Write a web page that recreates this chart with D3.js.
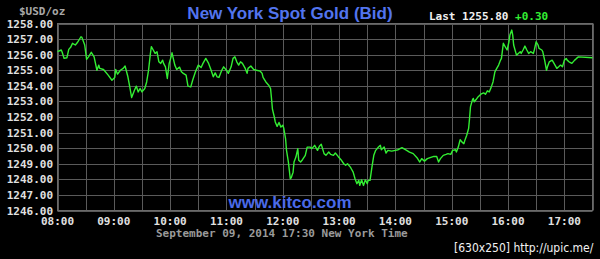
<!DOCTYPE html>
<head>
  <meta charset="utf-8">
  <style>
    body { margin: 0; background: #000; }
    svg { display: block; }
    .mono { font-family: "DejaVu Sans Mono", monospace; font-weight: bold; font-size: 11px; }
  </style>
  <script src="https://cdn.jsdelivr.net/npm/d3@7"></script>
</head>
<body>
<svg id=chart width="600" height="259"></svg>

<script>
// minutes after 08:00 and bid price
const minutes = [0,4,5,7,10,12,14,16,19,21,25,26,29,31,33,36,39,42,44,45,49,54,58,61,62,64,67,70,72,75,77,79,82,84,86,88,90,93,95,97,99,100,102,104,106,108,110,112,113,115,117,119,121,122,125,127,130,132,134,137,139,142,144,147,150,153,155,158,161,163,166,168,170,172,175,177,180,182,185,187,189,191,193,195,197,200,202,203,206,209,212,216,218,219,222,225,227,228,229,231,232,234,236,238,240,241,243,244,246,248,249,251,252,254,256,257,259,261,264,266,269,271,274,277,279,281,284,286,289,291,294,296,299,302,305,307,309,312,313,315,317,319,321,322,324,326,328,330,331,333,335,337,339,342,344,345,348,350,352,356,360,363,367,372,375,379,383,386,388,391,394,397,401,404,406,408,411,414,416,419,421,424,425,427,429,431,433,434,436,438,439,440,442,443,444,446,448,451,454,456,458,460,462,464,466,468,470,472,473,475,477,479,481,482,484,485,486,489,491,493,494,496,498,500,502,504,507,508,510,512,513,516,517,519,521,522,524,527,529,532,534,536,538,540,542,543,545,548,551,553,555,570]
const prices = [1256.19,1256.30,1256.15,1255.76,1255.80,1256.34,1256.47,1256.73,1256.62,1256.76,1257.15,1257.11,1256.62,1255.70,1255.86,1256.15,1255.86,1255.00,1255.33,1255.12,1255.05,1254.69,1254.36,1254.54,1255.05,1254.75,1255.00,1255.12,1255.27,1254.58,1253.93,1253.25,1253.72,1253.98,1253.61,1253.83,1253.61,1253.83,1254.25,1255.00,1256.08,1256.51,1256.30,1256.08,1256.19,1255.54,1255.44,1255.65,1255.44,1255.22,1254.47,1255.44,1255.86,1256.12,1255.33,1255.05,1255.20,1254.90,1254.80,1254.69,1253.98,1253.93,1254.36,1254.90,1255.33,1255.18,1255.44,1255.76,1255.44,1255.12,1254.58,1254.83,1254.58,1254.54,1255.00,1255.22,1255.00,1254.80,1255.22,1255.76,1255.86,1255.54,1255.33,1255.54,1255.44,1255.12,1254.80,1255.12,1255.27,1255.05,1255.00,1254.94,1254.80,1254.54,1254.25,1254.04,1253.83,1253.19,1252.50,1252.00,1251.68,1251.40,1251.65,1251.35,1251.47,1251.30,1250.60,1249.86,1249.10,1248.04,1248.10,1248.46,1249.11,1249.43,1249.97,1249.22,1249.11,1249.26,1249.54,1250.07,1250.07,1249.97,1250.18,1249.86,1250.12,1250.25,1249.65,1249.54,1249.75,1249.60,1249.54,1249.69,1249.47,1249.26,1249.00,1248.90,1249.00,1248.78,1248.68,1248.46,1248.04,1247.72,1247.93,1247.61,1247.97,1247.61,1247.97,1247.72,1247.93,1247.93,1248.78,1249.54,1249.86,1250.07,1250.18,1249.90,1250.07,1249.69,1249.86,1249.81,1249.86,1249.90,1250.03,1249.86,1249.75,1249.65,1249.39,1249.11,1249.33,1249.17,1249.33,1249.39,1249.47,1249.47,1249.11,1249.33,1249.54,1249.60,1249.65,1249.60,1249.86,1249.90,1249.75,1250.07,1250.55,1250.39,1250.29,1250.50,1250.83,1251.26,1251.90,1252.65,1253.08,1253.19,1252.97,1253.12,1253.29,1253.46,1253.55,1253.46,1253.68,1253.61,1253.90,1254.25,1254.90,1255.12,1255.33,1255.65,1255.76,1256.73,1256.51,1256.30,1256.83,1257.26,1257.58,1257.26,1256.62,1255.97,1256.08,1256.19,1256.08,1256.30,1256.55,1256.30,1256.08,1256.19,1256.08,1256.30,1256.83,1256.62,1256.40,1256.30,1256.19,1255.65,1255.00,1255.22,1255.54,1255.65,1255.44,1255.12,1255.22,1255.33,1255.22,1255.65,1255.76,1255.65,1255.54,1255.44,1255.65,1255.76,1255.86,1255.80]

const hourTicks = [0,60,120,180,240,300,360,420,480,540]
const hourLabels = ["08:00","09:00","10:00","11:00","12:00","13:00","14:00","15:00","16:00","17:00"]
const priceTicks = [1246,1247,1248,1249,1250,1251,1252,1253,1254,1255,1256,1257,1258]

const svg = d3.select('#chart')
svg.append('rect').attr('width', 600).attr('height', 259).attr('fill', '#000')

const x = d3.scaleLinear().domain([0, 570]).range([57.5, 592.5])
const y = d3.scaleLinear().domain([1246, 1258]).range([210.5, 23.5])

// grid
const grid = svg.append('g').attr('stroke', '#5a5a5a').attr('stroke-width', 1)
grid.selectAll('line.v').data(d3.range(0, 571, 30)).join('line')
  .attr('x1', d => Math.round(x(d)) + 0.5).attr('x2', d => Math.round(x(d)) + 0.5)
  .attr('y1', y(1258)).attr('y2', y(1246))
grid.selectAll('line.h').data(priceTicks).join('line')
  .attr('x1', x(0)).attr('x2', x(570))
  .attr('y1', d => Math.round(y(d)) + 0.5).attr('y2', d => Math.round(y(d)) + 0.5)
svg.append('rect')
  .attr('x', x(0)).attr('y', y(1258))
  .attr('width', x(570) - x(0)).attr('height', y(1246) - y(1258))
  .attr('fill', 'none').attr('stroke', '#6a6a6a')

// y axis labels
svg.append('g').selectAll('text').data(priceTicks).join('text')
  .attr('class', 'mono').attr('fill', '#e0e0e0')
  .attr('text-anchor', 'end')
  .attr('x', 53).attr('y', d => y(d) + 4)
  .text(d => d.toFixed(2))

// x axis labels
svg.append('g').selectAll('text').data(hourTicks).join('text')
  .attr('class', 'mono').attr('fill', '#e0e0e0')
  .attr('text-anchor', 'middle')
  .attr('x', d => x(d)).attr('y', 225)
  .text((d, i) => hourLabels[i])

svg.append('text').attr('class', 'mono').attr('fill', '#a8a8a8')
  .attr('x', 19).attr('y', 15).text('$USD/oz')

svg.append('text').attr('class', 'mono').attr('fill', '#9a9a9a')
  .attr('x', 156).attr('y', 237).text('September 09, 2014 17:30 New York Time')

// titles
svg.append('text')
  .attr('x', 290).attr('y', 19).attr('text-anchor', 'middle')
  .attr('font-family', '"Liberation Sans", Arial, sans-serif')
  .attr('font-weight', 'bold').attr('font-size', 17)
  .attr('fill', '#5274ee')
  .text('New York Spot Gold (Bid)')

const last = svg.append('text').attr('class', 'mono').attr('x', 429).attr('y', 20)
last.append('tspan').attr('fill', '#f0f0f0').text('Last 1255.80 ')
last.append('tspan').attr('fill', '#33ee33').text('+0.30')

svg.append('text')
  .attr('x', 290).attr('y', 208).attr('text-anchor', 'middle')
  .attr('font-family', '"Liberation Sans", Arial, sans-serif')
  .attr('font-weight', 'bold').attr('font-size', 17)
  .attr('fill', '#4a6ae8')
  .text('www.kitco.com')

svg.append('text')
  .attr('x', 454).attr('y', 252)
  .attr('font-family', '"Liberation Sans Narrow", "DejaVu Sans Condensed", sans-serif')
  .attr('font-size', 12).attr('fill', '#f2f2f2')
  .text('[630x250] http://upic.me/')

// price line
const line = d3.line().x((d, i) => x(minutes[i])).y(d => y(d))
svg.append('path').datum(prices)
  .attr('d', line)
  .attr('fill', 'none')
  .attr('stroke', '#33ee33')
  .attr('stroke-width', 1.4)
  .attr('stroke-linejoin', 'round')
</script>
</body>
